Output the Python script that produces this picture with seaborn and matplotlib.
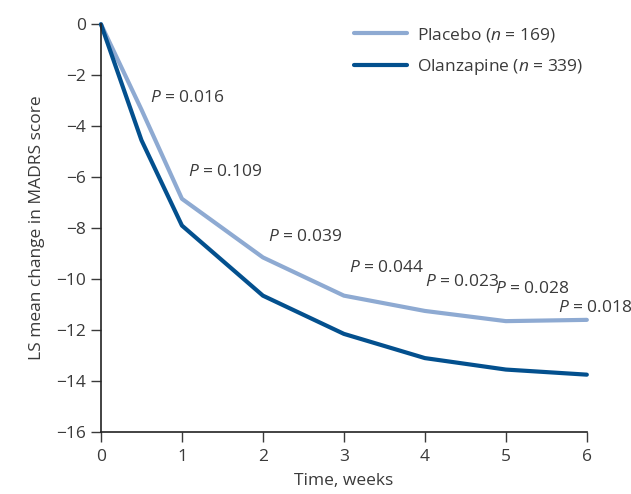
import numpy as np
import pandas as pd
import seaborn as sns
import matplotlib.pyplot as plt

weeks = [0, 0.5, 1, 2, 3, 4, 5, 6]
placebo = [0, -3.35, -6.85, -9.15, -10.65, -11.25, -11.65, -11.6]
olanzapine = [0, -4.55, -7.9, -10.65, -12.15, -13.1, -13.55, -13.75]
p_weeks = [0.5, 1, 2, 3, 4, 5, 6]
p_values = ["0.016", "0.109", "0.039", "0.044", "0.023", "0.028", "0.018"]
groups = ["Placebo ($\\it{n}$ = 169)", "Olanzapine ($\\it{n}$ = 339)"]

df = pd.DataFrame({
    "week": weeks * 2,
    "score": placebo + olanzapine,
    "group": [groups[0]] * len(weeks) + [groups[1]] * len(weeks),
})

sns.set_style("ticks")
plt.rcParams["font.family"] = ["Open Sans", "DejaVu Sans"]
plt.rcParams["mathtext.fontset"] = "custom"
plt.rcParams["mathtext.rm"] = "Open Sans"
plt.rcParams["mathtext.it"] = "Open Sans:italic"
txt = "#3a3a3a"
fs = 12.5

fig = plt.figure(figsize=(6.31, 4.94), dpi=100)
ax = fig.add_axes([0.160, 0.1255, 0.770, 0.8255])
sns.lineplot(data=df, x="week", y="score", hue="group", palette=["#8eaad2", "#03508e"],
             linewidth=3, ax=ax, clip_on=False)

# label offsets from the placebo points (layout only)
offs = [(0.1, 0.45), (0.07, 1.05), (0.06, 0.8), (0.06, 1.1), (0.0, 1.15), (-0.14, 1.25), (-0.36, 0.45)]
for w, p, (dx, dy) in zip(p_weeks, p_values, offs):
    yv = placebo[weeks.index(w)]
    ax.text(w + dx, yv + dy, "$\\it{P}$ = " + p, fontsize=fs, color=txt, va="center", ha="left")

ax.set_xlim(0, 6)
ax.set_ylim(-16, 0)
ax.set_xticks(range(0, 7))
ax.set_yticks(range(-16, 1, 2))
ax.tick_params(colors=txt, labelsize=fs, length=7, width=1)
ax.tick_params(axis="x", pad=5)
for s in ["left", "bottom"]:
    ax.spines[s].set_color("#222222")
    ax.spines[s].set_linewidth(1.2)
sns.despine(ax=ax)
ax.set_xlabel("Time, weeks", fontsize=fs, color=txt, labelpad=6)
ax.set_ylabel("LS mean change in MADRS score", fontsize=fs, color=txt, labelpad=8)

leg = ax.legend(loc="upper right", bbox_to_anchor=(1.025, 1.035), frameon=False, fontsize=fs,
                handlelength=3.05, handletextpad=0.6, labelspacing=0.75)
for t in leg.get_texts():
    t.set_color(txt)

fig.savefig("out.png", dpi=100)
